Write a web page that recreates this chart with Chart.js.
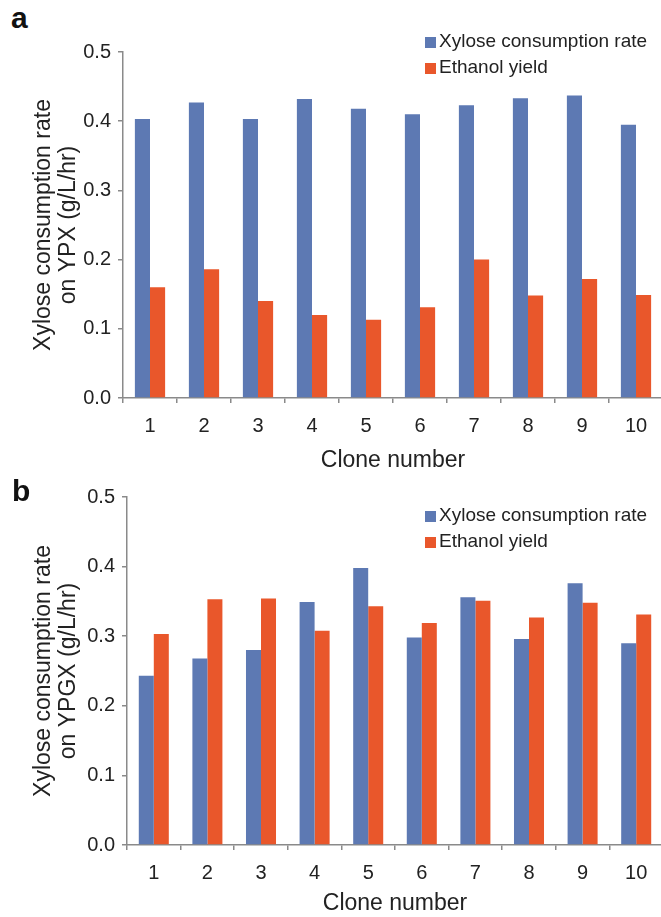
<!DOCTYPE html>
<html>
<head>
<meta charset="utf-8">
<script src="https://cdn.jsdelivr.net/npm/chart.js@4"></script>
<style>
  html, body { margin: 0; padding: 0; background: #fff; overflow: hidden; }
  #page { position: relative; width: 661px; height: 917px; overflow: hidden; }
  .panel { position: absolute; left: 0; width: 672px; }
  .letter { position: absolute; font: bold 30px "Liberation Sans", Arial, sans-serif; color: #111; }
  .legend { position: absolute; left: 425px; font: 19px "Liberation Sans", Arial, sans-serif; color: #222; }
  .legend .row { position: relative; height: 26px; line-height: 26px; white-space: nowrap; }
  .legend .sw { display: inline-block; width: 11px; height: 11px; margin-right: 3px; vertical-align: -1px; }
</style>
</head>
<body>
<div id="page">
  <div class="letter" style="left:11px; top:1px;">a</div>
  <div class="panel" style="top:0; height:480px;"><canvas id="chartA"></canvas></div>
  <div class="legend" id="legendA" style="top:28px;"></div>

  <div class="letter" style="left:12px; top:474px;">b</div>
  <div class="panel" style="top:460px; height:457px;"><canvas id="chartB"></canvas></div>
  <div class="legend" id="legendB" style="top:502px;"></div>
</div>

<script>
// ===============================
// DATA
// ===============================
const clones = ["1", "2", "3", "4", "5", "6", "7", "8", "9", "10"];

// panel a : YPX
const xyloseYPX  = [0.403, 0.427, 0.403, 0.432, 0.418, 0.410, 0.423, 0.433, 0.437, 0.395];
const ethanolYPX = [0.160, 0.186, 0.140, 0.120, 0.113, 0.131, 0.200, 0.148, 0.172, 0.149];

// panel b : YPGX
const xyloseYPGX  = [0.243, 0.268, 0.280, 0.349, 0.398, 0.298, 0.356, 0.296, 0.376, 0.290];
const ethanolYPGX = [0.303, 0.353, 0.354, 0.308, 0.343, 0.319, 0.351, 0.327, 0.348, 0.331];

const yTicks = [0, 0.1, 0.2, 0.3, 0.4, 0.5];
const seriesNames = ["Xylose consumption rate", "Ethanol yield"];

const BLUE = "#5d79b3";
const ORANGE = "#e9572b";
const AXIS = "#8a8a8a";
const FONT = "'Liberation Sans', Arial, sans-serif";

Chart.defaults.font.family = FONT;
Chart.defaults.color = "#222";
Chart.defaults.animation = false;

// ===============================
// BUILD ONE PANEL
// ===============================
function buildChart(canvasId, legendId, yTitle, xylose, ethanol, box) {
    const ctx = document.getElementById(canvasId);

    const chart = new Chart(ctx, {
        type: "bar",
        data: {
            labels: clones,
            datasets: [
                { label: seriesNames[0], data: xylose, backgroundColor: BLUE },
                { label: seriesNames[1], data: ethanol, backgroundColor: ORANGE }
            ]
        },
        options: {
            responsive: true,
            maintainAspectRatio: false,
            layout: { padding: { top: box.top, right: 9, left: 0, bottom: 0 } },
            datasets: { bar: { categoryPercentage: 0.56, barPercentage: 1.0 } },
            plugins: { legend: { display: false }, tooltip: { enabled: false } },
            scales: {
                x: {
                    afterFit: (s) => { s.height = box.xHeight; },
                    grid: { offset: true, drawOnChartArea: false, tickLength: 5, color: AXIS, lineWidth: 1.5 },
                    border: { color: AXIS, width: 1.5 },
                    ticks: { font: { size: 20 }, padding: 11, color: "#222" },
                    title: {
                        display: true, text: "Clone number",
                        font: { size: 23, lineHeight: 1.2 },
                        padding: { top: 0, bottom: box.titlePad },
                        color: "#222"
                    }
                },
                y: {
                    min: 0, max: 0.5,
                    afterFit: (s) => { s.width = box.yWidth; },
                    afterBuildTicks: (s) => { s.ticks = yTicks.map(v => ({ value: v })); },
                    grid: { drawOnChartArea: false, tickLength: 5, color: AXIS, lineWidth: 1.5 },
                    border: { color: AXIS, width: 1.5 },
                    ticks: {
                        font: { size: 20 }, padding: 7, color: "#222",
                        callback: (v) => Number(v).toFixed(1)
                    },
                    title: {
                        display: true, text: yTitle,
                        font: { size: 23, lineHeight: 1.05 },
                        padding: { top: 32, bottom: 0 },
                        color: "#222"
                    }
                }
            }
        }
    });

    // legend from the dataset labels/colours
    const leg = document.getElementById(legendId);
    chart.data.datasets.forEach(ds => {
        const row = document.createElement("div");
        row.className = "row";
        row.innerHTML = `<span class="sw" style="background:${ds.backgroundColor}"></span>${ds.label}`;
        leg.appendChild(row);
    });

    return chart;
}

buildChart("chartA", "legendA", ["Xylose consumption rate", "on YPX (g/L/hr)"],
    xyloseYPX, ethanolYPX, { top: 52, xHeight: 82, yWidth: 123, titlePad: 6 });

buildChart("chartB", "legendB", ["Xylose consumption rate", "on YPGX (g/L/hr)"],
    xyloseYPGX, ethanolYPGX, { top: 37, xHeight: 72, yWidth: 127, titlePad: 0 });
</script>
</body>
</html>
